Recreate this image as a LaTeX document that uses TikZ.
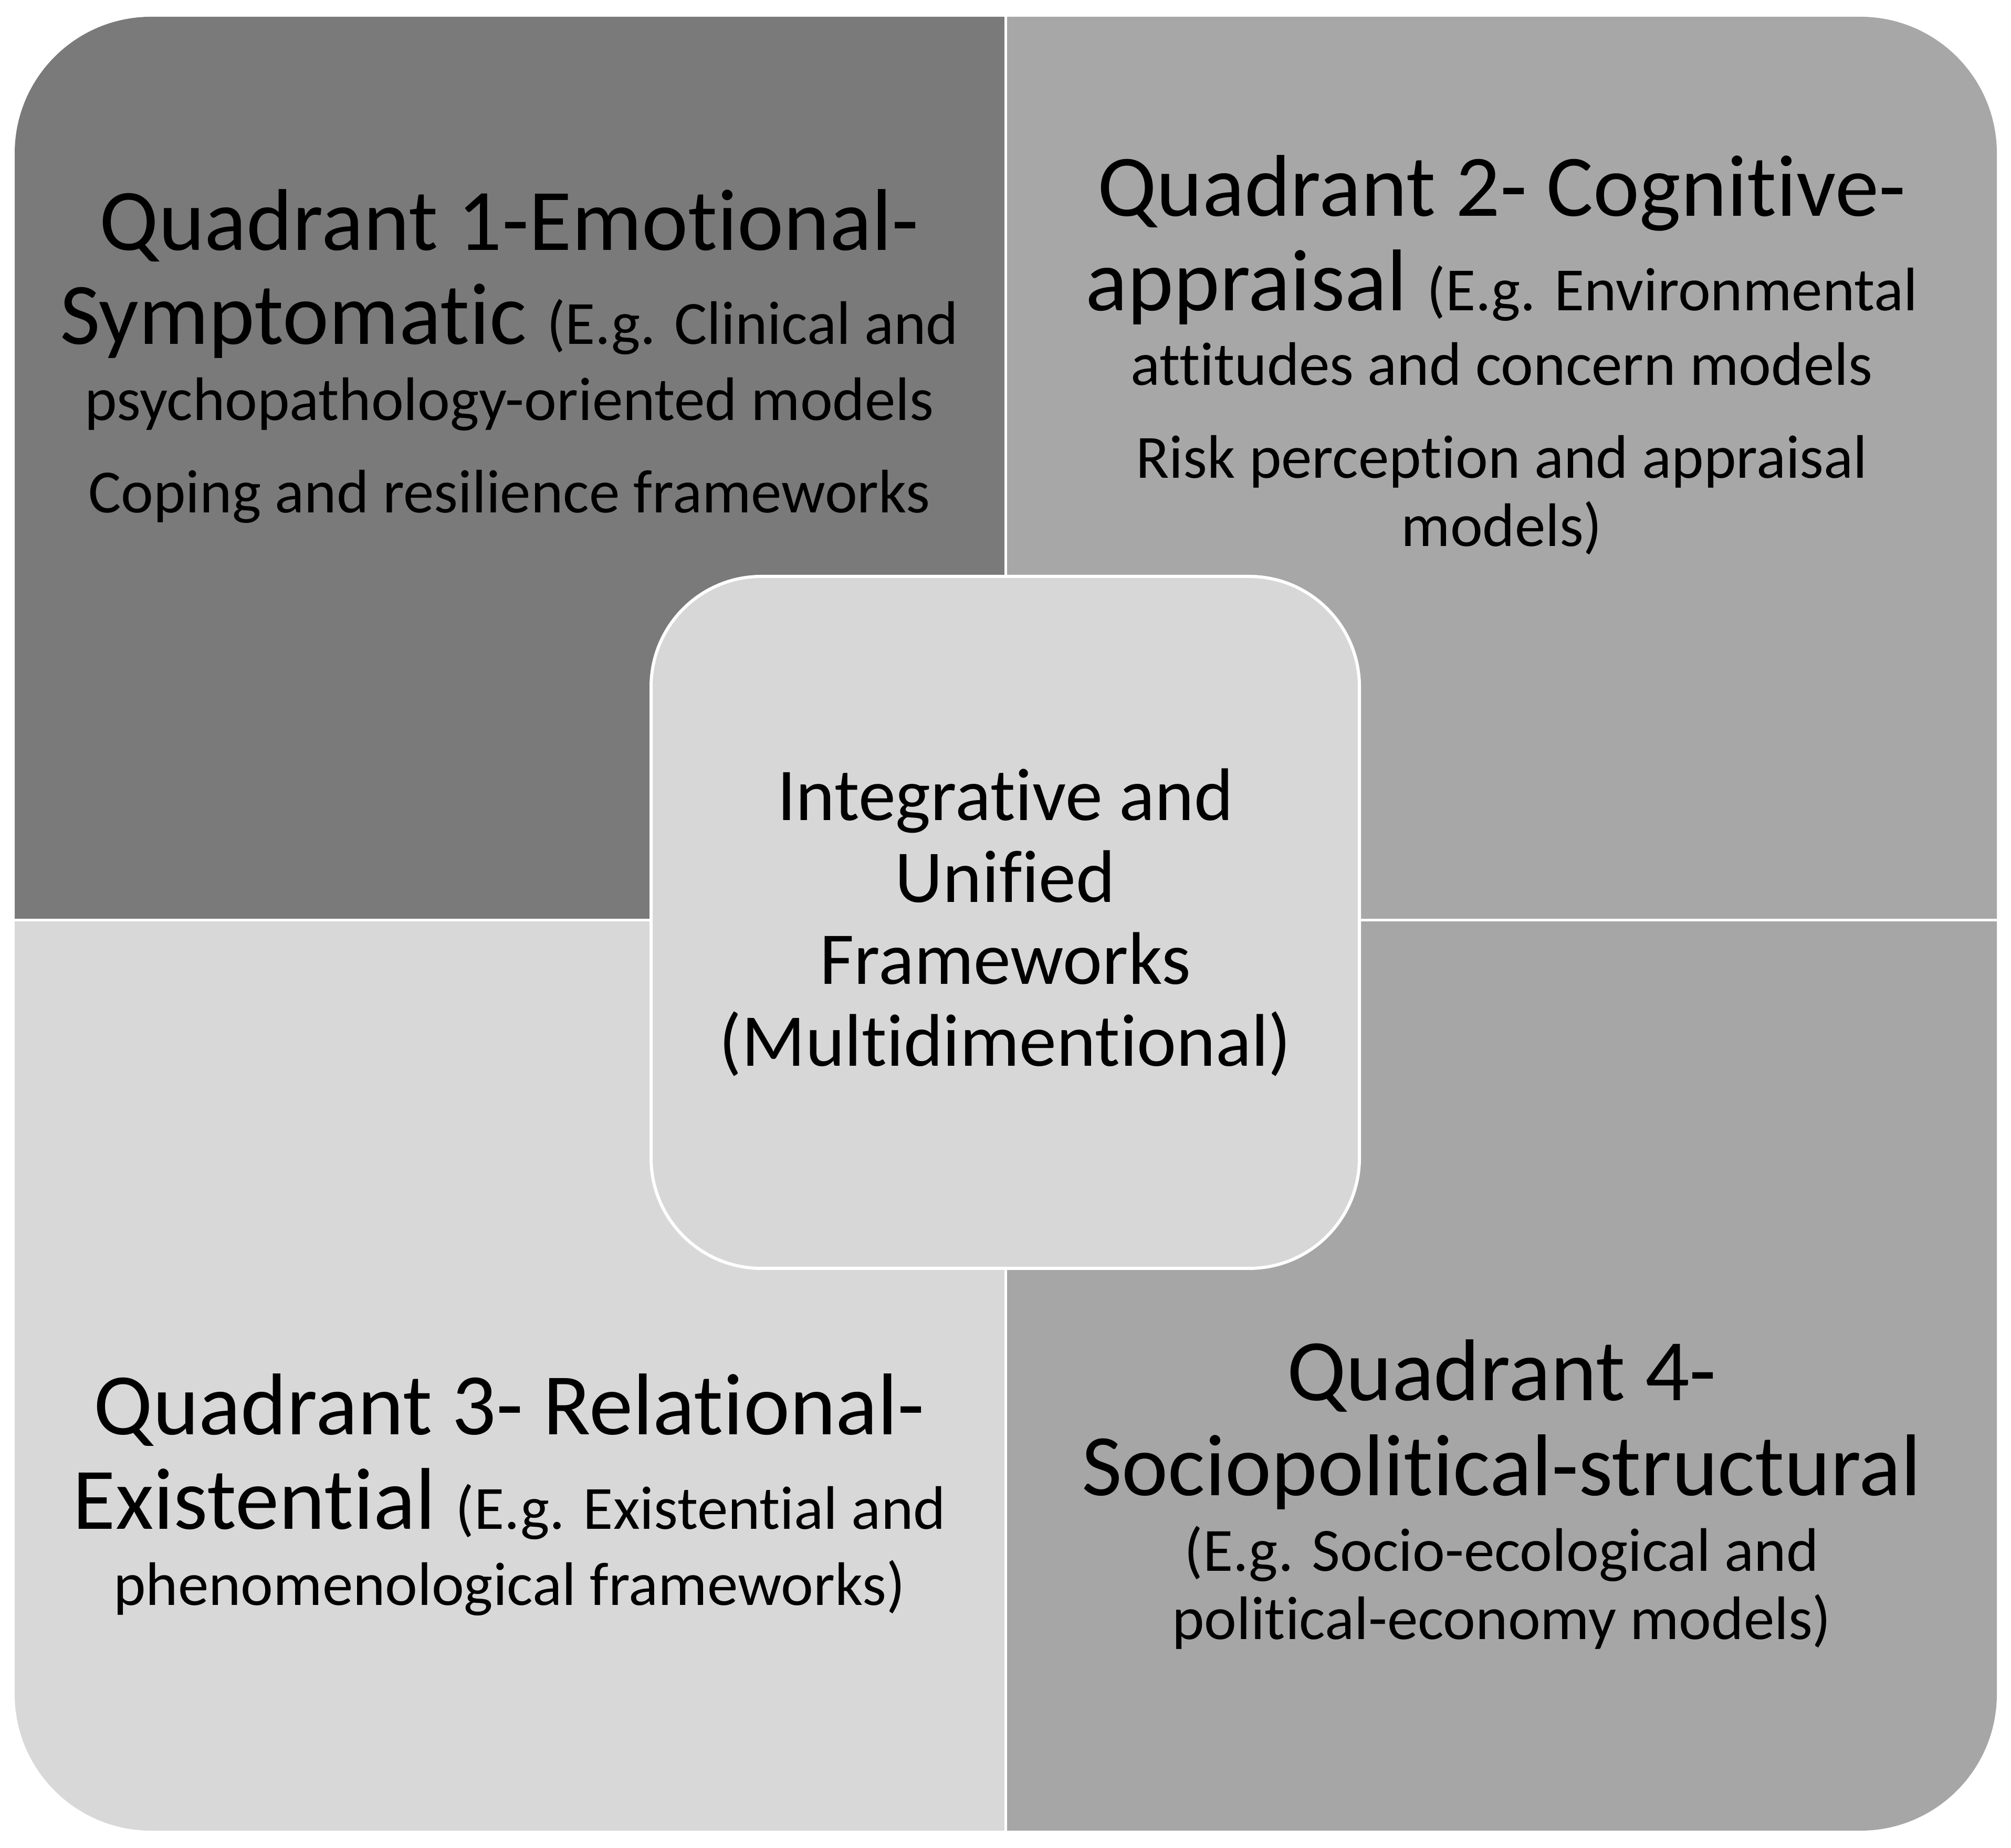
\documentclass[tikz,border=0pt]{standalone}
\usepackage{fontspec}
\setmainfont{Carlito}[Ligatures=NoCommon]
\usepackage{tikz}
\usetikzlibrary{positioning}
\definecolor{quadA}{HTML}{7A7A7A}
\definecolor{quadB}{HTML}{A7A7A7}
\definecolor{quadC}{HTML}{D8D8D8}
\definecolor{quadD}{HTML}{A6A6A6}
\definecolor{hubgray}{HTML}{D7D7D7}
\newcommand{\headsize}{\fontsize{47.5pt}{36.99pt}\selectfont}
\newcommand{\notesize}{\fontsize{33.3pt}{36.99pt}\selectfont\lineskiplimit=-\maxdimen}
\newcommand{\hubsize}{\fontsize{40.4pt}{44.39pt}\selectfont\lineskiplimit=-\maxdimen}

\begin{document}
\begin{tikzpicture}[every text node part/.style={align=center}, quadtext/.style={inner sep=0pt, anchor=base, font=\notesize}, hub/.style={rectangle, rounded corners=2.1cm, fill=hubgray, draw=white, line width=0.06cm, minimum width=13.49cm, minimum height=13.18cm, inner sep=0pt, font=\hubsize}]
\useasboundingbox (0,0) rectangle (38.30,35.20);
\fill[white] (0,0) rectangle (38.30,35.20);
\begin{scope}
\clip[rounded corners=2.6cm] (0.28,0.33) rectangle (38.03,34.88);
\fill[quadA] (0,17.695) rectangle (19.125,35.20);
\fill[quadB] (19.175,17.695) rectangle (38.30,35.20);
\fill[quadC] (0,0) rectangle (19.125,17.645);
\fill[quadD] (19.175,0) rectangle (38.30,17.645);
\end{scope}
\node [quadtext] (q1) at (9.70,25.43) {{\headsize Quadrant 1-Emotional-}\\[0.49cm]{\headsize Symptomatic }(E.g. Clinical and\\[0.15cm]psychopathology-oriented models\\[0.46cm]Coping and resilience frameworks};
\node [quadtext] (q2) at (28.60,24.79) {{\headsize Quadrant 2- Cognitive-}\\[0.50cm]{\headsize appraisal }(E.g. Environmental\\[0.12cm]attitudes and concern models\\[0.47cm]Risk perception and appraisal\\models)};
\node [quadtext] (q3) at (9.70,4.62) {{\headsize Quadrant 3- Relational-}\\[0.50cm]{\headsize Existential }(E.g. Existential and\\[0.15cm]phenomenological frameworks)};
\node [quadtext] (q4) at (28.60,3.97) {{\headsize Quadrant 4-}\\[0.51cm]{\headsize Sociopolitical-structural}\\[0.14cm](E.g. Socio-ecological and\\political-economy models)};
\node [hub] (core) at (19.145,17.63) {Integrative and\\Unified\\Frameworks\\(Multidimentional)};
\end{tikzpicture}
\end{document}
